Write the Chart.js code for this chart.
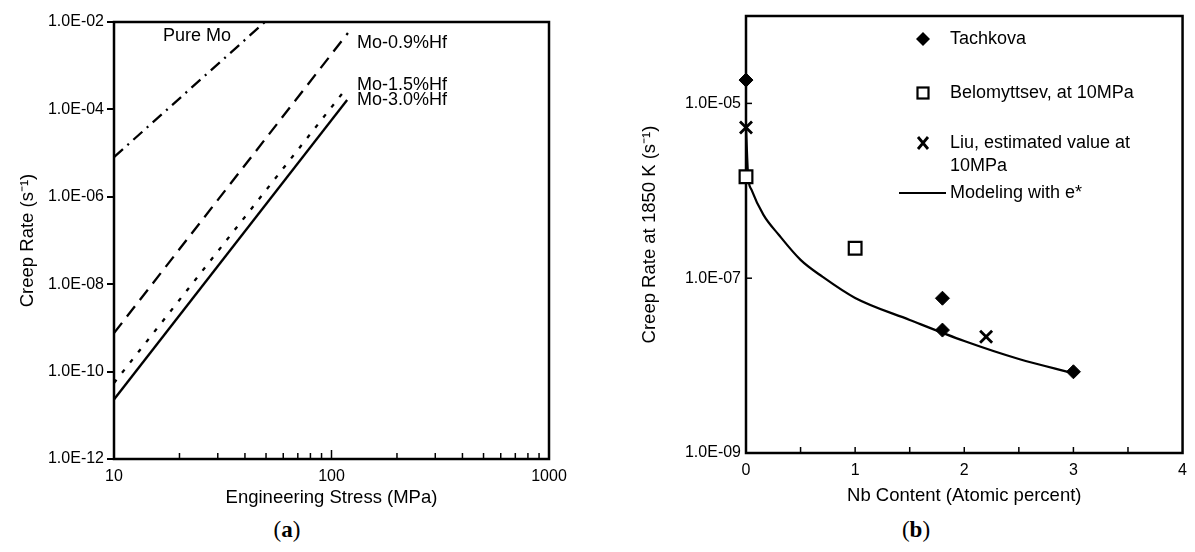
<!DOCTYPE html>
<html lang="en">
<head>
<meta charset="UTF-8">
<title>Creep rate of Mo alloys</title>
<script src="https://cdn.jsdelivr.net/npm/chart.js"></script>
<style>
  body { margin: 0; background: #fff; width: 1195px; height: 552px; overflow: hidden; position: relative; }
  .box { position: absolute; top: 0; }
  #boxA { left: 0; width: 580px; height: 513px; }
  #boxB { left: 600px; width: 595px; height: 511px; }
  .cap { position: absolute; top: 517px; width: 100px; text-align: center; font-family: "Liberation Serif", serif; font-size: 23px; color: #000; }
</style>
</head>
<body>
  <div class="box" id="boxA"><canvas id="chartA"></canvas></div>
  <div class="box" id="boxB"><canvas id="chartB"></canvas></div>
  <div class="cap" style="left:237px">(<b>a</b>)</div>
  <div class="cap" style="left:866px">(<b>b</b>)</div>

<script>
// (a) creep rate vs stress, straight lines on log-log axes
const stressPureMo = [10, 49.4];
const ratePureMo = [8.1e-6, 1e-2];
const stressHf09 = [10, 119];
const rateHf09 = [7.6e-10, 5.6e-3];
const stressHf15 = [10, 118];
const rateHf15 = [5.5e-11, 3.2e-4];
const stressHf30 = [10, 118];
const rateHf30 = [2.3e-11, 1.64e-4];

const rateTicksA = [1e-12, 1e-10, 1e-8, 1e-6, 1e-4, 1e-2];
const stressTicks = [10, 100, 1000];
const stressMinor = [20, 30, 40, 50, 60, 70, 80, 90, 100, 200, 300, 400, 500, 600, 700, 800, 900];

// (b) creep rate at 1850 K vs Nb content
const tachkovaNb = [0, 1.8, 1.8, 3.0];
const tachkovaRate = [1.85e-5, 5.9e-8, 2.55e-8, 8.5e-9];
const belomNb = [0, 1.0];
const belomRate = [1.45e-6, 2.2e-7];
const liuNb = [0, 2.2];
const liuRate = [5.3e-6, 2.14e-8];
const modelNb = [0, 0.02, 0.05, 0.16, 0.30, 0.50, 0.70, 1.0, 1.5, 2.0, 2.5, 3.0];
const modelRate = [5.3e-6, 1.45e-6, 1.03e-6, 5.3e-7, 3.14e-7, 1.62e-7, 1.04e-7, 5.94e-8, 3.33e-8, 1.91e-8, 1.19e-8, 8.2e-9];

const rateTicksB = [1e-9, 1e-7, 1e-5];
const nbTicks = [0, 1, 2, 3, 4];
const nbMinor = [0.5, 1, 1.5, 2, 2.5, 3, 3.5];

Chart.defaults.font.family = "'Liberation Sans', Arial, sans-serif";
Chart.defaults.font.size = 16;
Chart.defaults.color = '#000';

const pts = (xs, ys) => xs.map((x, i) => ({ x: x, y: ys[i] }));
const sci = v => {
  const e = Math.round(Math.log10(v));
  return '1.0E' + (e < 0 ? '-' : '+') + String(Math.abs(e)).padStart(2, '0');
};

// box around the plot + tick marks pointing into the plot
const framePlugin = {
  id: 'frame',
  beforeDatasetsDraw(chart, args, opts) {
    const { ctx, chartArea: a } = chart;
    ctx.save();
    ctx.strokeStyle = '#000';
    ctx.lineWidth = 1.5;
    (opts.xIn || []).forEach(v => {
      const px = chart.scales.x.getPixelForValue(v);
      const len = (opts.xMajor || []).includes(v) ? 9 : 6;
      ctx.beginPath(); ctx.moveTo(px, a.bottom); ctx.lineTo(px, a.bottom - len); ctx.stroke();
    });
    (opts.yIn || []).forEach(v => {
      const py = chart.scales.y.getPixelForValue(v);
      ctx.beginPath(); ctx.moveTo(a.left, py); ctx.lineTo(a.left + 6, py); ctx.stroke();
    });
    ctx.lineWidth = 2.5;
    ctx.strokeRect(a.left, a.top, a.width, a.height);
    ctx.restore();
  }
};

// curve names in panel (a)
const labelsPlugin = {
  id: 'curveLabels',
  afterDatasetsDraw(chart) {
    const { ctx, chartArea: a } = chart;
    ctx.save();
    ctx.fillStyle = '#000';
    ctx.font = "18px 'Liberation Sans', Arial, sans-serif";
    ctx.textBaseline = 'middle';
    ctx.fillText('Pure Mo', a.left + 49, a.top + 14);
    ctx.fillText('Mo-0.9%Hf', a.left + 243, a.top + 21);
    ctx.fillText('Mo-1.5%Hf', a.left + 243, a.top + 63);
    ctx.fillText('Mo-3.0%Hf', a.left + 243, a.top + 78);
    ctx.restore();
  }
};

// legend of panel (b)
const legendPlugin = {
  id: 'legendB',
  afterDatasetsDraw(chart) {
    const { ctx, chartArea: a } = chart;
    const mx = a.left + 177, tx = a.left + 204;
    ctx.save();
    ctx.fillStyle = '#000';
    ctx.strokeStyle = '#000';
    let y = a.top + 23;
    ctx.beginPath();
    ctx.moveTo(mx, y - 7); ctx.lineTo(mx + 7, y); ctx.lineTo(mx, y + 7); ctx.lineTo(mx - 7, y);
    ctx.closePath(); ctx.fill();
    y = a.top + 77;
    ctx.lineWidth = 2.2;
    ctx.strokeRect(mx - 5.5, y - 5.5, 11, 11);
    y = a.top + 127;
    ctx.lineWidth = 2.8;
    ctx.beginPath();
    ctx.moveTo(mx - 5, y - 6); ctx.lineTo(mx + 5, y + 6);
    ctx.moveTo(mx + 5, y - 6); ctx.lineTo(mx - 5, y + 6);
    ctx.stroke();
    y = a.top + 177;
    ctx.lineWidth = 2;
    ctx.beginPath(); ctx.moveTo(a.left + 153, y); ctx.lineTo(a.left + 200, y); ctx.stroke();

    ctx.font = "18px 'Liberation Sans', Arial, sans-serif";
    ctx.textBaseline = 'middle';
    ctx.fillText('Tachkova', tx, a.top + 23);
    ctx.fillText('Belomyttsev, at 10MPa', tx, a.top + 77);
    ctx.fillText('Liu, estimated value at', tx, a.top + 127);
    ctx.fillText('10MPa', tx, a.top + 150);
    ctx.fillText('Modeling with e*', tx, a.top + 177);
    ctx.restore();
  }
};

const lineSet = (label, xs, ys, dash) => ({
  label: label,
  data: pts(xs, ys),
  showLine: true,
  borderColor: '#000',
  borderWidth: 2.3,
  borderDash: dash,
  pointRadius: 0,
  fill: false
});

const titleFont = { size: 18.5 };

new Chart(document.getElementById('chartA'), {
  type: 'scatter',
  data: {
    datasets: [
      lineSet('Pure Mo', stressPureMo, ratePureMo, [12, 6, 2, 6]),
      lineSet('Mo-0.9%Hf', stressHf09, rateHf09, [13, 8]),
      lineSet('Mo-1.5%Hf', stressHf15, rateHf15, [4, 9]),
      lineSet('Mo-3.0%Hf', stressHf30, rateHf30, [])
    ]
  },
  options: {
    responsive: true,
    maintainAspectRatio: false,
    animation: false,
    layout: { padding: { top: 22, right: 31, left: 13, bottom: 0 } },
    plugins: {
      legend: { display: false },
      tooltip: { enabled: false },
      frame: { xIn: stressMinor, xMajor: [100] }
    },
    scales: {
      x: {
        type: 'logarithmic',
        min: 10,
        max: 1000,
        afterBuildTicks: s => { s.ticks = stressTicks.map(v => ({ value: v })); },
        afterFit: s => { s.height = 54; },
        ticks: { padding: 8, maxRotation: 0, callback: v => String(v) },
        grid: { display: false, drawTicks: false },
        border: { display: false },
        title: { display: true, text: 'Engineering Stress (MPa)', font: titleFont, padding: { top: 4, bottom: 4 } }
      },
      y: {
        type: 'logarithmic',
        min: 1e-12,
        max: 1e-2,
        afterBuildTicks: s => { s.ticks = rateTicksA.map(v => ({ value: v })); },
        afterFit: s => { s.width = 101; },
        ticks: { padding: 3, callback: v => sci(v) },
        grid: { display: true, drawOnChartArea: false, drawTicks: true, tickLength: 7, color: '#000', lineWidth: 2 },
        border: { display: false },
        title: { display: true, text: 'Creep Rate (s⁻¹)', font: titleFont, padding: { top: 4, bottom: 4 } }
      }
    }
  },
  plugins: [framePlugin, labelsPlugin]
});

new Chart(document.getElementById('chartB'), {
  type: 'scatter',
  data: {
    datasets: [
      {
        label: 'Tachkova',
        data: pts(tachkovaNb, tachkovaRate),
        pointStyle: 'rectRot',
        pointRadius: 7,
        backgroundColor: '#000',
        borderColor: '#000',
        borderWidth: 1,
        clip: false
      },
      {
        label: 'Belomyttsev, at 10MPa',
        data: pts(belomNb, belomRate),
        pointStyle: 'rect',
        pointRadius: 9,
        backgroundColor: '#fff',
        borderColor: '#000',
        borderWidth: 2.2,
        clip: false
      },
      {
        label: 'Liu, estimated value at 10MPa',
        data: pts(liuNb, liuRate),
        pointStyle: 'crossRot',
        pointRadius: 8.5,
        borderColor: '#000',
        borderWidth: 2.8,
        clip: false
      },
      {
        label: 'Modeling with e*',
        data: pts(modelNb, modelRate),
        showLine: true,
        borderColor: '#000',
        borderWidth: 2.2,
        pointRadius: 0,
        cubicInterpolationMode: 'monotone',
        fill: false
      }
    ]
  },
  options: {
    responsive: true,
    maintainAspectRatio: false,
    animation: false,
    layout: { padding: { top: 16, right: 4, left: 35, bottom: 0 } },
    plugins: {
      legend: { display: false },
      tooltip: { enabled: false },
      frame: { xIn: nbMinor, yIn: rateTicksB }
    },
    scales: {
      x: {
        type: 'linear',
        min: 0,
        max: 4,
        afterBuildTicks: s => { s.ticks = nbTicks.map(v => ({ value: v })); },
        afterFit: s => { s.height = 58; },
        ticks: { padding: 8, maxRotation: 0 },
        grid: { display: false, drawTicks: false },
        border: { display: false },
        title: { display: true, text: 'Nb Content (Atomic percent)', font: titleFont, padding: { top: 4, bottom: 4 } }
      },
      y: {
        type: 'logarithmic',
        min: 1e-9,
        max: 1e-4,
        afterBuildTicks: s => { s.ticks = rateTicksB.map(v => ({ value: v })); },
        afterFit: s => { s.width = 111; },
        ticks: { padding: 5, callback: v => sci(v) },
        grid: { display: false, drawTicks: false },
        border: { display: false },
        title: { display: true, text: 'Creep Rate at 1850 K (s⁻¹)', font: titleFont, padding: { top: 4, bottom: 4 } }
      }
    }
  },
  plugins: [framePlugin, legendPlugin]
});
</script>
</body>
</html>
